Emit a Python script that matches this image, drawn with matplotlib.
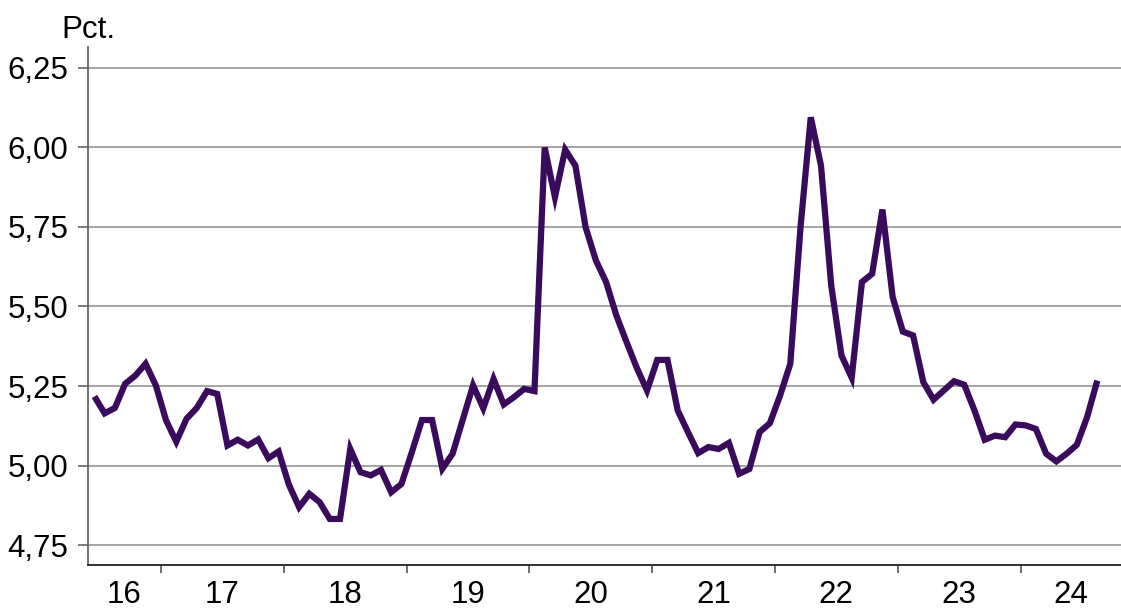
import matplotlib
matplotlib.use("Agg")
import matplotlib.pyplot as plt
import pandas as pd

# Monthly series, June 2016 - August 2024 (Pct.)
start_month = "2016-06"
end_month = "2024-08"
values = [
    5.217, 5.164, 5.181, 5.257, 5.283, 5.320, 5.252,            # 2016 Jun-Dec
    5.142, 5.075, 5.147, 5.181, 5.234, 5.225, 5.063, 5.081,     # 2017
    5.063, 5.082, 5.023, 5.044,
    4.940, 4.869, 4.911, 4.885, 4.832, 4.832, 5.052, 4.979,     # 2018
    4.969, 4.986, 4.916, 4.942,
    5.040, 5.143, 5.143, 4.990, 5.037, 5.145, 5.252, 5.180,     # 2019
    5.272, 5.192, 5.215, 5.241,
    5.234, 6.000, 5.844, 5.993, 5.943, 5.749, 5.645, 5.577,     # 2020
    5.472, 5.388, 5.307, 5.236,
    5.332, 5.332, 5.173, 5.105, 5.039, 5.058, 5.052, 5.071,     # 2021
    4.974, 4.989, 5.105, 5.133,
    5.220, 5.320, 5.750, 6.095, 5.943, 5.566, 5.346, 5.276,     # 2022
    5.577, 5.603, 5.805, 5.530,
    5.421, 5.409, 5.262, 5.207, 5.236, 5.265, 5.254, 5.173,     # 2023
    5.081, 5.094, 5.089, 5.129,
    5.126, 5.115, 5.037, 5.013, 5.037, 5.065, 5.152, 5.267,     # 2024 Jan-Aug
]
year_labels = ["16", "17", "18", "19", "20", "21", "22", "23", "24"]
y_ticks = [4.75, 5.00, 5.25, 5.50, 5.75, 6.00, 6.25]
y_tick_labels = ["4,75", "5,00", "5,25", "5,50", "5,75", "6,00", "6,25"]
unit_label = "Pct."

months = pd.period_range(start_month, end_month, freq="M")
xpos = [p.year + (p.month - 0.5) / 12 for p in months]

plt.rcParams["font.family"] = ["Liberation Sans", "DejaVu Sans"]

fig = plt.figure(figsize=(11.21, 6.08), dpi=100)
ax = fig.add_axes([88 / 1121, 1 - 564.5 / 608, 1 - 88 / 1121, (564.5 - 47) / 608])

x_left, x_right = 2016.406, 2024.818
ax.set_xlim(x_left, x_right)
ax.set_ylim(4.6887, 6.316)

ax.set_yticks(y_ticks)
ax.set_yticklabels(y_tick_labels)
ax.yaxis.grid(True, color="#8c8c8c", linewidth=1.1)
ax.set_axisbelow(True)

ax.plot(xpos, values, color="#3a0a5c", linewidth=4.5, solid_joinstyle="miter",
        solid_capstyle="butt", zorder=3)

# Year boundary ticks (no labels) and centred year labels
first_year = 2016
ax.set_xticks([first_year + i for i in range(1, len(year_labels))])
ax.set_xticklabels([])
label_pos = []
for i in range(len(year_labels)):
    lo = max(first_year + i, x_left)
    hi = min(first_year + i + 1, x_right)
    label_pos.append((lo + hi) / 2)
ax.set_xticks(label_pos, minor=True)
ax.set_xticklabels(year_labels, minor=True)
ax.tick_params(axis="x", which="major", length=6, width=1.2, color="#555555", direction="out")
ax.tick_params(axis="x", which="minor", length=0, pad=11, labelsize=22.5)
ax.tick_params(axis="y", which="major", length=7, width=1.2, color="#666666", pad=7, labelsize=22.5)

for s in ["top", "right"]:
    ax.spines[s].set_visible(False)
ax.spines["left"].set_color("#666666")
ax.spines["left"].set_linewidth(1.3)
ax.spines["bottom"].set_color("#222222")
ax.spines["bottom"].set_linewidth(1.3)

fig.text(61 / 1121, 1 - 37.5 / 608, unit_label, fontsize=22.5, ha="left", va="baseline")

fig.savefig("out.png", dpi=100)
